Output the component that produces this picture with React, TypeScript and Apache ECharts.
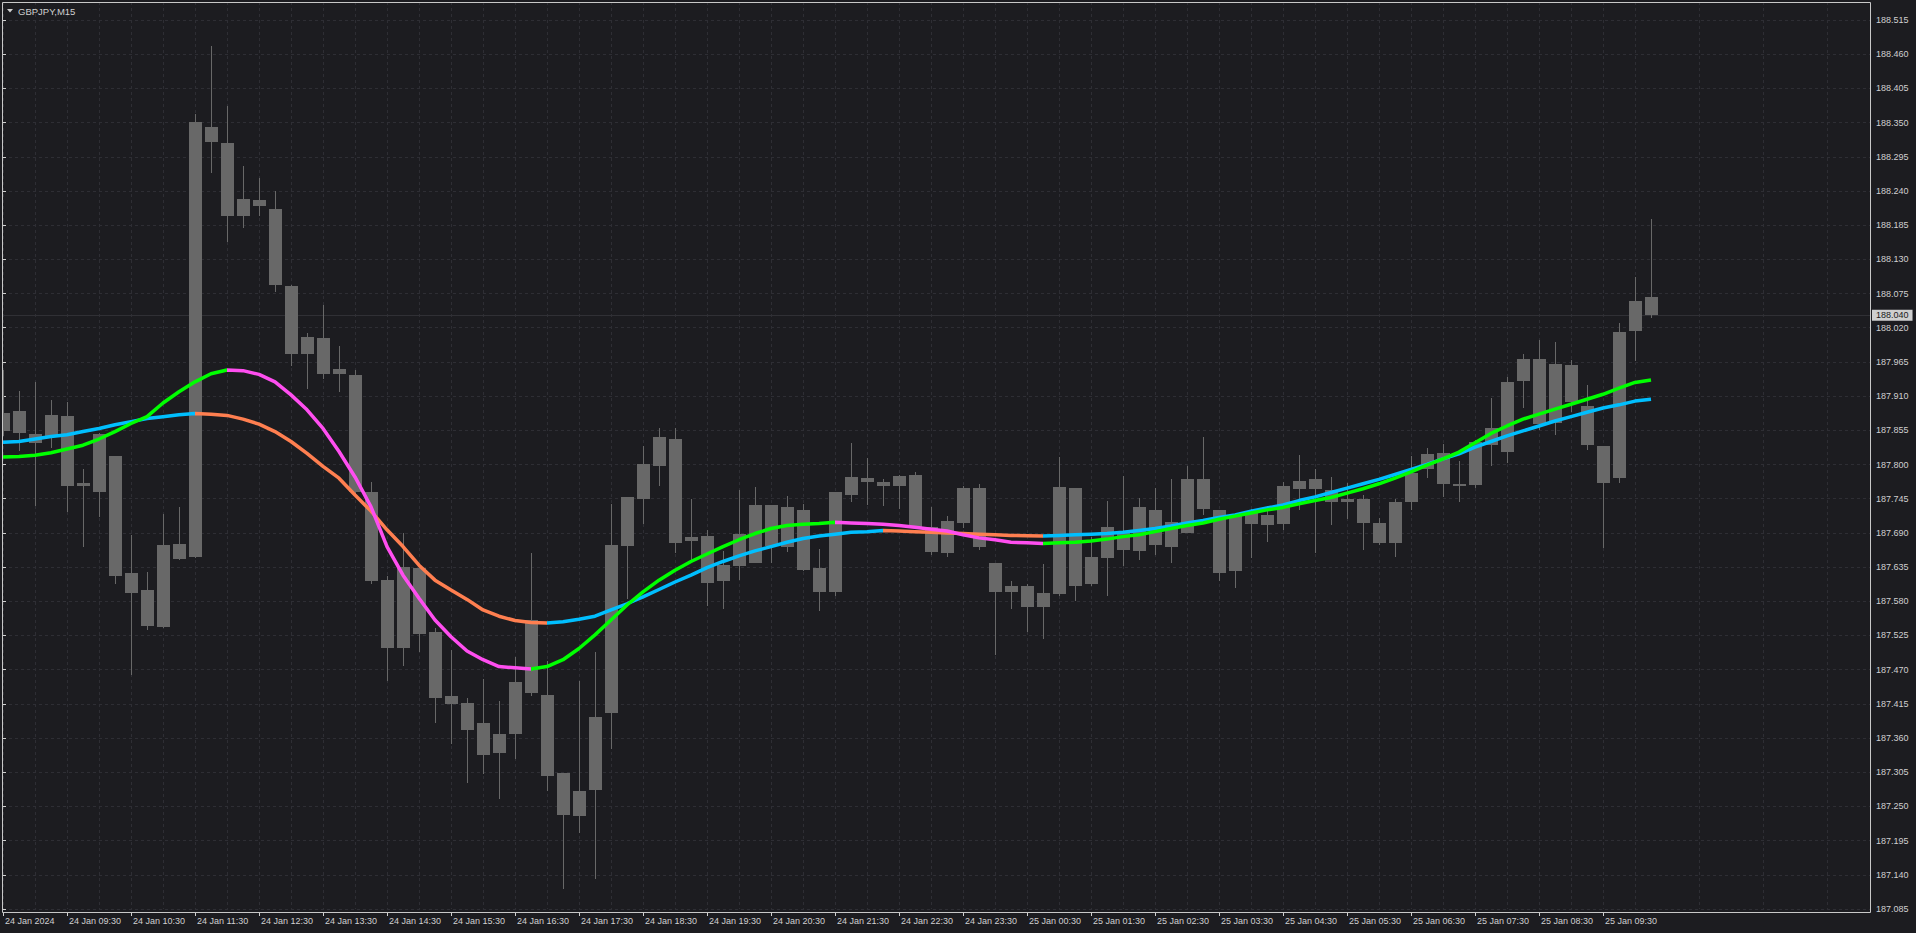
import React, { useEffect, useRef } from "react";
import * as echarts from "echarts";

const symbolTitle = "GBPJPY,M15";

// x tick labels: one every 4 bars (M15 bars, starting 24 Jan 08:30)
const xTickLabels = [
  "24 Jan 2024", "24 Jan 09:30", "24 Jan 10:30", "24 Jan 11:30", "24 Jan 12:30", "24 Jan 13:30",
  "24 Jan 14:30", "24 Jan 15:30", "24 Jan 16:30", "24 Jan 17:30", "24 Jan 18:30", "24 Jan 19:30",
  "24 Jan 20:30", "24 Jan 21:30", "24 Jan 22:30", "24 Jan 23:30", "25 Jan 00:30", "25 Jan 01:30",
  "25 Jan 02:30", "25 Jan 03:30", "25 Jan 04:30", "25 Jan 05:30", "25 Jan 06:30", "25 Jan 07:30",
  "25 Jan 08:30", "25 Jan 09:30",
];

const opens = [
  187.854, 187.886, 187.849, 187.844, 187.878, 187.766, 187.756, 187.814, 187.625, 187.598,
  187.539, 187.672, 187.651, 188.343, 188.317, 188.200, 188.226, 188.211, 188.087, 187.977,
  188.003, 187.945, 187.944, 187.755, 187.614, 187.505, 187.634, 187.531, 187.428, 187.417,
  187.385, 187.336, 187.367, 187.432, 187.429, 187.304, 187.234, 187.277, 187.401, 187.669,
  187.745, 187.798, 187.841, 187.677, 187.685, 187.613, 187.636, 187.642, 187.735, 187.668,
  187.727, 187.634, 187.595, 187.751, 187.778, 187.772, 187.766, 187.783, 187.700, 187.658,
  187.706, 187.762, 187.642, 187.595, 187.605, 187.570, 187.591, 187.762, 187.607, 187.650,
  187.693, 187.661, 187.727, 187.668, 187.690, 187.777, 187.727, 187.628, 187.724, 187.703,
  187.705, 187.760, 187.777, 187.759, 187.739, 187.745, 187.706, 187.673, 187.739, 187.793,
  187.819, 187.769, 187.767, 187.831, 187.820, 187.934, 187.970, 187.867, 187.960, 187.894,
  187.830, 187.779, 188.014, 188.069,
];
const highs = [
  187.952, 187.918, 187.933, 187.904, 187.900, 187.793, 187.850, 187.814, 187.687, 187.627,
  187.720, 187.732, 188.364, 188.473, 188.377, 188.280, 188.261, 188.240, 188.088, 188.012,
  188.057, 187.991, 187.952, 187.772, 187.621, 187.690, 187.638, 187.537, 187.502, 187.425,
  187.455, 187.420, 187.491, 187.657, 187.484, 187.304, 187.452, 187.498, 187.737, 187.748,
  187.830, 187.859, 187.859, 187.745, 187.695, 187.661, 187.759, 187.764, 187.735, 187.749,
  187.737, 187.664, 187.756, 187.835, 187.810, 187.777, 187.783, 187.788, 187.732, 187.717,
  187.765, 187.769, 187.642, 187.612, 187.608, 187.640, 187.812, 187.762, 187.684, 187.741,
  187.782, 187.746, 187.762, 187.777, 187.798, 187.844, 187.727, 187.719, 187.729, 187.734,
  187.772, 187.815, 187.793, 187.780, 187.770, 187.751, 187.714, 187.745, 187.814, 187.827,
  187.833, 187.806, 187.839, 187.907, 187.940, 187.978, 188.000, 187.997, 187.968, 187.928,
  187.830, 188.028, 188.102, 188.195,
];
const lows = [
  187.846, 187.822, 187.734, 187.827, 187.724, 187.668, 187.716, 187.607, 187.462, 187.534,
  187.537, 187.647, 187.650, 188.269, 188.158, 188.181, 188.200, 188.078, 187.959, 187.922,
  187.938, 187.917, 187.751, 187.607, 187.452, 187.476, 187.499, 187.385, 187.351, 187.287,
  187.302, 187.262, 187.326, 187.428, 187.275, 187.117, 187.208, 187.133, 187.343, 187.584,
  187.705, 187.765, 187.658, 187.644, 187.573, 187.567, 187.615, 187.642, 187.642, 187.660,
  187.629, 187.565, 187.589, 187.739, 187.735, 187.734, 187.729, 187.700, 187.655, 187.652,
  187.698, 187.663, 187.494, 187.568, 187.531, 187.520, 187.589, 187.581, 187.605, 187.589,
  187.637, 187.647, 187.655, 187.641, 187.690, 187.719, 187.612, 187.602, 187.650, 187.676,
  187.695, 187.727, 187.657, 187.703, 187.713, 187.663, 187.671, 187.652, 187.727, 187.779,
  187.747, 187.740, 187.763, 187.798, 187.803, 187.891, 187.856, 187.848, 187.885, 187.824,
  187.666, 187.771, 187.967, 188.035,
];
const closes = [
  187.883, 187.851, 187.835, 187.880, 187.766, 187.770, 187.849, 187.621, 187.594, 187.541,
  187.671, 187.648, 188.351, 188.318, 188.200, 188.227, 188.216, 188.088, 187.977, 188.005,
  187.946, 187.954, 187.755, 187.612, 187.505, 187.635, 187.528, 187.425, 187.415, 187.373,
  187.333, 187.367, 187.450, 187.550, 187.299, 187.237, 187.275, 187.394, 187.671, 187.747,
  187.801, 187.844, 187.673, 187.683, 187.610, 187.638, 187.688, 187.735, 187.669, 187.732,
  187.630, 187.595, 187.756, 187.780, 187.772, 187.766, 187.782, 187.700, 187.660, 187.709,
  187.762, 187.668, 187.595, 187.605, 187.570, 187.593, 187.764, 187.605, 187.651, 187.700,
  187.663, 187.731, 187.671, 187.708, 187.777, 187.729, 187.626, 187.719, 187.705, 187.719,
  187.765, 187.773, 187.760, 187.739, 187.745, 187.706, 187.673, 187.740, 187.787, 187.817,
  187.769, 187.766, 187.836, 187.858, 187.933, 187.970, 187.865, 187.962, 187.901, 187.832,
  187.771, 188.013, 188.063, 188.040,
];

// fast smoothed line (green up / magenta down)
const fastLine = [
  187.812, 187.813, 187.815, 187.819, 187.825, 187.831, 187.841, 187.853, 187.866, 187.877,
  187.899, 187.917, 187.933, 187.946, 187.952, 187.951, 187.945, 187.933, 187.912, 187.888,
  187.858, 187.821, 187.780, 187.732, 187.668, 187.622, 187.585, 187.550, 187.523, 187.500,
  187.486, 187.475, 187.473, 187.471, 187.475, 187.486, 187.504, 187.526, 187.550, 187.574,
  187.595, 187.614, 187.630, 187.644, 187.656, 187.668, 187.679, 187.689, 187.697, 187.702,
  187.704, 187.705, 187.707, 187.706, 187.705, 187.704, 187.702, 187.699, 187.696, 187.693,
  187.687, 187.682, 187.679, 187.675, 187.674, 187.673, 187.674, 187.675, 187.677, 187.680,
  187.684, 187.687, 187.692, 187.697, 187.702, 187.706, 187.712, 187.717, 187.722, 187.727,
  187.731, 187.737, 187.742, 187.747, 187.754, 187.761, 187.769, 187.778, 187.788, 187.799,
  187.809, 187.820, 187.835, 187.850, 187.862, 187.873, 187.881, 187.889, 187.897, 187.905,
  187.913, 187.923, 187.932, 187.936,
];
// slow smoothed line (blue up / coral down)
const slowLine = [
  187.836, 187.837, 187.841, 187.845, 187.848, 187.853, 187.858, 187.864, 187.869, 187.874,
  187.877, 187.880, 187.882, 187.881, 187.879, 187.873, 187.865, 187.853, 187.837, 187.818,
  187.797, 187.778, 187.751, 187.725, 187.695, 187.668, 187.638, 187.614, 187.598, 187.583,
  187.566, 187.556, 187.549, 187.546, 187.545, 187.547, 187.551, 187.556, 187.566, 187.576,
  187.587, 187.599, 187.611, 187.622, 187.634, 187.644, 187.653, 187.661, 187.668, 187.675,
  187.681, 187.685, 187.688, 187.691, 187.692, 187.694, 187.693, 187.692, 187.691, 187.690,
  187.689, 187.688, 187.687, 187.686, 187.6855, 187.685, 187.686, 187.687, 187.688, 187.689,
  187.691, 187.694, 187.697, 187.701, 187.706, 187.710, 187.715, 187.719, 187.725, 187.730,
  187.735, 187.742, 187.748, 187.755, 187.762, 187.769, 187.776, 187.784, 187.792, 187.800,
  187.809, 187.817, 187.828, 187.837, 187.846, 187.854, 187.862, 187.870, 187.877, 187.884,
  187.891, 187.896, 187.902, 187.905,
];

const bidPrice = 188.04;

const Y_MIN = 187.085;
const Y_MAX = 188.544;
const Y_STEP = 0.055;
const X_MAX = 116.6875;

const BG = "#1c1c20";
const FG = "#d0d0d0";
const CANDLE = "#686868";
const GRID = "#2e2e34";
const FONT = "Liberation Sans";

function trendPieces(values: number[], upColor: string, downColor: string) {
  const pieces: any[] = [];
  let cur = values[1] >= values[0] ? "up" : "down";
  let start = 0;
  for (let i = 1; i < values.length; i++) {
    const d = values[i] > values[i - 1] ? "up" : values[i] < values[i - 1] ? "down" : cur;
    if (d !== cur) {
      pieces.push({ gte: start, lt: i - 1, color: cur === "up" ? upColor : downColor });
      start = i - 1;
      cur = d;
    }
  }
  pieces.push({ gte: start, lte: values.length + 20, color: cur === "up" ? upColor : downColor });
  return pieces;
}

export default function App() {
  const ref = useRef<HTMLDivElement>(null);

  useEffect(() => {
    document.body.style.margin = "0";
    document.body.style.background = BG;
    const chart = echarts.init(ref.current!, null, { renderer: "svg" });

    const candleData = opens.map((o, i) => [i, o, highs[i], lows[i], closes[i]]);
    const fastData = fastLine.map((v, i) => [i, v]);
    const slowData = slowLine.map((v, i) => [i, v]);
    const tickVals = xTickLabels.map((_, i) => i * 4);
    const last = closes.length - 1;

    const option: any = {
      animation: false,
      backgroundColor: BG,
      grid: { left: 3, top: 2, right: 46, bottom: 24, containLabel: false },
      xAxis: {
        type: "value",
        min: 0,
        max: X_MAX,
        interval: 4,
        offset: 3,
        axisLine: { show: false },
        axisTick: { show: true, length: 4, lineStyle: { color: FG }, customValues: tickVals },
        axisLabel: {
          color: FG,
          fontSize: 9,
          fontFamily: FONT,
          align: "left",
          margin: 4,
          padding: [0, 0, 0, 2],
          showMaxLabel: false,
          formatter: (v: number) => {
            const k = Math.round(v / 4);
            return Math.abs(v - k * 4) < 1e-6 && xTickLabels[k] ? xTickLabels[k] : "";
          },
        },
        splitLine: { show: true, lineStyle: { color: GRID, type: [3, 3], width: 1 } },
        minorTick: { show: false, splitNumber: 2 },
        minorSplitLine: { show: true, lineStyle: { color: GRID, type: [3, 3], width: 1 } },
      },
      yAxis: {
        type: "value",
        position: "right",
        min: Y_MIN,
        max: Y_MAX,
        interval: Y_STEP,
        scale: true,
        axisLine: { show: false },
        axisTick: { show: true, length: 3, lineStyle: { color: FG } },
        axisLabel: {
          color: FG,
          fontSize: 9,
          fontFamily: FONT,
          margin: 6,
          showMaxLabel: false,
          formatter: (v: number) => v.toFixed(3),
        },
        splitLine: { show: true, lineStyle: { color: GRID, type: [3, 3], width: 1 } },
      },
      visualMap: [
        {
          type: "piecewise",
          show: false,
          dimension: 0,
          seriesIndex: 1,
          pieces: trendPieces(slowLine, "#00bfff", "#ff7f50"),
          outOfRange: { color: "#00bfff" },
        },
        {
          type: "piecewise",
          show: false,
          dimension: 0,
          seriesIndex: 2,
          pieces: trendPieces(fastLine, "#00ff00", "#ff4ef0"),
          outOfRange: { color: "#00ff00" },
        },
      ],
      series: [
        {
          type: "custom",
          name: "GBPJPY",
          clip: true,
          encode: { x: 0, y: [1, 2, 3, 4] },
          data: candleData,
          renderItem: (params: any, api: any) => {
            const i = api.value(0);
            const o = api.value(1);
            const h = api.value(2);
            const l = api.value(3);
            const c = api.value(4);
            const pTop = api.coord([i, Math.max(o, c)]);
            const pBot = api.coord([i, Math.min(o, c)]);
            const pHi = api.coord([i, h]);
            const pLo = api.coord([i, l]);
            const cx = Math.round(pTop[0]);
            const bt = Math.round(pTop[1]);
            const bh = Math.max(1, Math.round(pBot[1]) - bt);
            const ht = Math.round(pHi[1]);
            const lb = Math.round(pLo[1]);
            return {
              type: "group",
              children: [
                {
                  type: "rect",
                  shape: { x: cx, y: ht, width: 1, height: Math.max(1, lb - ht) },
                  style: { fill: CANDLE },
                },
                {
                  type: "rect",
                  shape: { x: cx - 6, y: bt, width: 13, height: bh },
                  style: { fill: CANDLE },
                },
              ],
            };
          },
          z: 2,
        },
        {
          type: "line",
          name: "slow",
          data: slowData,
          showSymbol: false,
          symbol: "none",
          lineStyle: { width: 3.5 },
          z: 3,
        },
        {
          type: "line",
          name: "fast",
          data: fastData,
          showSymbol: false,
          symbol: "none",
          lineStyle: { width: 3.5 },
          z: 4,
        },
        {
          type: "line",
          name: "bid",
          data: [[last, bidPrice]],
          showSymbol: false,
          symbol: "none",
          lineStyle: { width: 0, opacity: 0 },
          z: 1,
          markLine: {
            silent: true,
            z: 1,
            symbol: ["none", "none"],
            lineStyle: { color: "#303035", width: 1, type: "solid" },
            label: {
              show: true,
              position: "end",
              distance: 2,
              formatter: () => bidPrice.toFixed(3),
              color: "#1a1a1a",
              backgroundColor: "#cfcfcf",
              padding: [1, 4, 1, 4],
              fontSize: 9,
              fontFamily: FONT,
            },
            data: [{ yAxis: bidPrice }],
          },
        },
      ],
      graphic: [
        {
          type: "rect",
          silent: true,
          z: 100,
          shape: { x: 2.5, y: 2.5, width: 1868, height: 910 },
          style: { fill: "none", stroke: "#c8c8c8", lineWidth: 1 },
        },
        {
          type: "polygon",
          silent: true,
          z: 100,
          shape: { points: [[7, 9], [13, 9], [10, 12.5]] },
          style: { fill: FG },
        },
        {
          type: "text",
          silent: true,
          z: 100,
          x: 18,
          y: 11,
          style: {
            text: symbolTitle,
            fill: FG,
            fontSize: 9.5,
            fontFamily: FONT,
            verticalAlign: "middle",
          },
        },
      ],
    };

    chart.setOption(option);
    return () => chart.dispose();
  }, []);

  return (
    <div
      ref={ref}
      style={{ position: "fixed", left: 0, top: 0, width: 1916, height: 933, background: BG }}
    />
  );
}
